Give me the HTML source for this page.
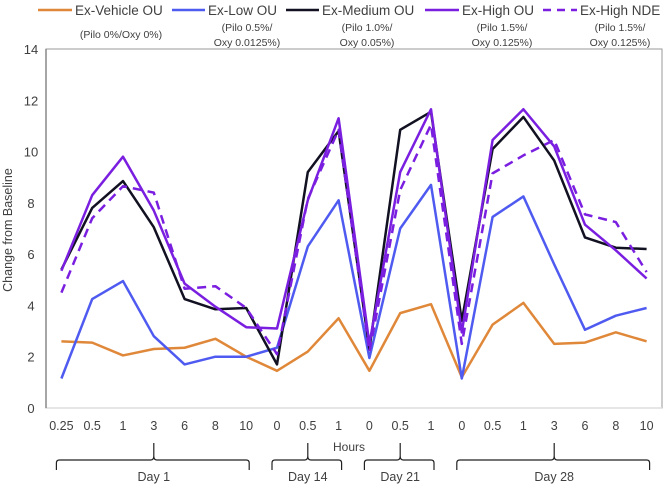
<!DOCTYPE html>
<html><head><meta charset="utf-8"><style>
body{margin:0;background:#fff;font-family:"Liberation Sans",sans-serif;}
svg text{font-family:"Liberation Sans",sans-serif;fill:#404040;}
</style></head><body>
<svg id="chart" width="664" height="486">
<g id="legend"></g>
<rect x="46" y="49" width="616" height="359" fill="none" stroke="#999" stroke-width="1"/>
<g id="yaxis"></g>
<g id="xaxis"></g>
<g id="series"></g>
<text x="12" y="230" font-size="12.5" text-anchor="middle" transform="rotate(-90 12 230)">Change from Baseline</text>
<text x="349" y="451" font-size="12" text-anchor="middle">Hours</text>
<g id="braces"></g>
</svg>
<script>
const categories=["0.25","0.5","1","3","6","8","10","0","0.5","1","0","0.5","1","0","0.5","1","3","6","8","10"];
const yTicks=[0,2,4,6,8,10,12,14];
const vehicle=[2.6,2.55,2.05,2.3,2.35,2.7,2.0,1.45,2.2,3.5,1.45,3.7,4.05,1.2,3.25,4.1,2.5,2.55,2.95,2.6];
const low=[1.15,4.25,4.95,2.8,1.7,2.0,2.0,2.35,6.3,8.1,1.95,7.0,8.7,1.15,7.45,8.25,5.6,3.05,3.6,3.9];
const medium=[5.4,7.8,8.85,7.05,4.25,3.85,3.9,1.7,9.2,10.8,2.3,10.85,11.55,3.4,10.1,11.35,9.65,6.65,6.25,6.2];
const highOU=[5.35,8.3,9.8,7.7,4.85,3.95,3.15,3.1,8.1,11.3,2.5,9.2,11.65,2.95,10.45,11.65,10.2,7.15,6.15,5.05];
const highNDE=[4.5,7.4,8.65,8.4,4.65,4.75,3.9,2.1,8.15,10.85,2.2,8.5,11.05,2.5,9.15,9.85,10.45,7.55,7.25,5.3];
const seriesNames=["Ex-Vehicle OU","Ex-Low OU","Ex-Medium OU","Ex-High OU","Ex-High NDE"];
const seriesSub=[["(Pilo 0%/Oxy 0%)"],["(Pilo 0.5%/","Oxy 0.0125%)"],["(Pilo 1.0%/","Oxy 0.05%)"],["(Pilo 1.5%/","Oxy 0.125%)"],["(Pilo 1.5%/","Oxy 0.125%)"]];
const days=[["Day 1",0,6],["Day 14",7,9],["Day 21",10,12],["Day 28",13,19]];

const NS="http://www.w3.org/2000/svg";
const X0=46,W=616,Y0=408,Y1=49;
const xs=i=>X0+W/categories.length*(i+0.5);
const ys=v=>Y0-(v/14)*(Y0-Y1);
function mk(tag,attrs,parent){const e=document.createElementNS(NS,tag);for(const k in attrs)e.setAttribute(k,attrs[k]);parent.appendChild(e);return e;}
const yaxis=document.getElementById('yaxis');
yTicks.forEach(t=>{const e=mk('text',{x:31,y:ys(t)+5,'font-size':13,'text-anchor':'middle'},yaxis);e.textContent=t;

});
mk('line',{x1:X0,y1:Y0,x2:X0+W,y2:Y0,stroke:'#ddd','stroke-width':1.5},yaxis);
mk('line',{x1:X0,y1:Y1,x2:X0,y2:Y0,stroke:'#888','stroke-width':1.5},yaxis);
const xaxis=document.getElementById('xaxis');
categories.forEach((c,i)=>{const e=mk('text',{x:xs(i),y:430,'font-size':12.5,'text-anchor':'middle'},xaxis);e.textContent=c;

});
const colors=["#E0883A","#4F5BF0","#111122","#7A1EE0","#7A1EE0"];
const dashes=["","","","","9,6"];
const names=["vehicle-line","low-line","medium-line","high-ou-line","high-nde-line"];
const sg=document.getElementById('series');
[vehicle,low,medium,highOU,highNDE].forEach((d,k)=>{
 const p=mk('polyline',{points:d.map((v,i)=>xs(i)+','+ys(v)).join(' '),fill:'none',stroke:colors[k],'stroke-width':2.5,'stroke-dasharray':dashes[k],'stroke-linejoin':'round'},sg);
 
 
});
const lg=document.getElementById('legend');
const lx=[38,172,286,425,543],tx=[75,208,322,462,580],sc=[121,247,367,502,620];
seriesNames.forEach((n,k)=>{
 const g=mk('g',{},lg);
 
 
 mk('line',{x1:lx[k],y1:10,x2:tx[k]-3,y2:10,stroke:colors[k],'stroke-width':2.5,'stroke-dasharray':dashes[k]?'8,6':''},g);
 const t=mk('text',{x:tx[k],y:15,'font-size':13.5},g);t.textContent=n;
 const sub=seriesSub[k];
 sub.forEach((s,j)=>{const st=mk('text',{x:sc[k],y:(sub.length==1?38:31)+j*15,'font-size':10.5,'text-anchor':'middle'},g);st.textContent=s;});
});
const bg=document.getElementById('braces');
days.forEach(([n,a,b])=>{
 const l=xs(a)-5, r=xs(b)+3;
 const m=(xs(a)+xs(b))/2;
 mk('path',{d:`M${l},470 L${l},463 Q${l},460 ${l+3},460 L${m-3},460 Q${m},460 ${m},456 L${m},443 M${m},456 Q${m},460 ${m+3},460 L${r-3},460 Q${r},460 ${r},463 L${r},470`,fill:'none',stroke:'#222','stroke-width':1.2},bg);
 const t=mk('text',{x:m,y:481,'font-size':12.5,'text-anchor':'middle'},bg);t.textContent=n;
 
 
});
</script>
</body></html>
